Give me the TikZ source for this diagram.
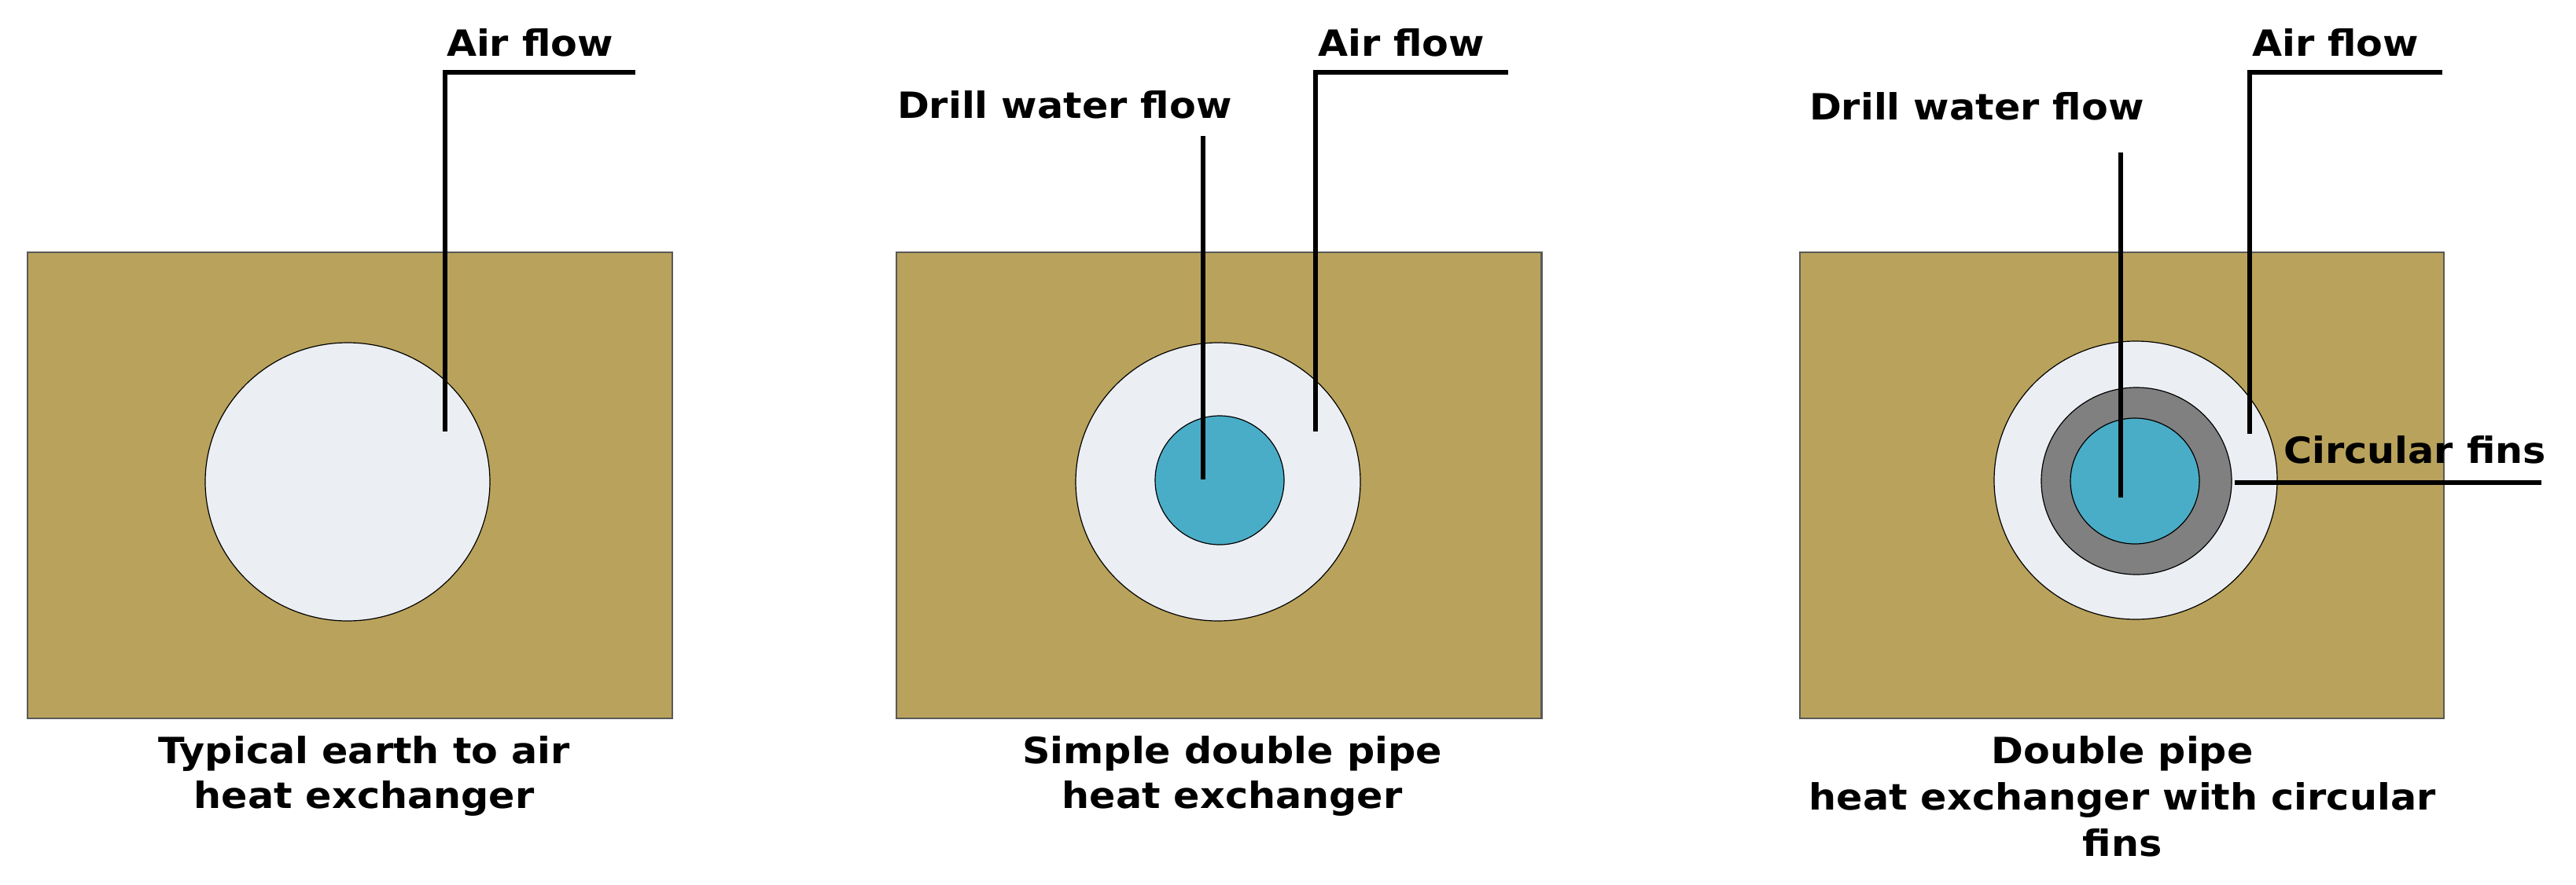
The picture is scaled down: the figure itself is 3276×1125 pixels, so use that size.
\documentclass[tikz,border=0pt]{standalone}
\usepackage{fontspec}
\setmainfont[FakeStretch=1.07]{DejaVu Sans}
\definecolor{earth}{HTML}{B9A25B}
\definecolor{airc}{HTML}{EBEEF3}
\definecolor{waterc}{HTML}{4AADC7}
\definecolor{finc}{HTML}{808080}
\tikzset{
  soil/.style={draw=black!65,line width=1.2pt,fill=earth},
  ring/.style={draw=black,line width=0.6pt},
  lead/.style={draw=black,line width=3pt},
  lbl/.style={font=\fontsize{23}{28.5}\selectfont\bfseries,anchor=base west,inner sep=0pt,outer sep=0pt,text=black},
  capt/.style={font=\fontsize{23}{28.5}\selectfont\bfseries,anchor=base,inner sep=0pt,outer sep=0pt,text=black},
}
\begin{document}
\begin{tikzpicture}[x=0.5pt,y=-0.5pt]
\useasboundingbox[fill=white] (0,0) rectangle (3276,1125);
% soil blocks
\node[soil,minimum width=410.2pt,minimum height=296.5pt,inner sep=0pt,anchor=north west] (soilA) at (33.5,320) {};
\node[soil,minimum width=410.2pt,minimum height=296.5pt,inner sep=0pt,anchor=north west] (soilB) at (1139,320) {};
\node[soil,minimum width=409.5pt,minimum height=296.5pt,inner sep=0pt,anchor=north west] (soilC) at (2288,320) {};
% pipes
\draw[ring,fill=airc] (442,613) ellipse [x radius=181,y radius=177];
\draw[ring,fill=airc] (1549,613) ellipse [x radius=181,y radius=177];
\draw[ring,fill=waterc] (1551,611) ellipse [x radius=82,y radius=82];
\draw[ring,fill=airc] (2716,611) ellipse [x radius=180,y radius=177];
\draw[ring,fill=finc] (2717,612) ellipse [x radius=121,y radius=119];
\draw[ring,fill=waterc] (2715,612) ellipse [x radius=82,y radius=80];
% leader coordinates
\coordinate (a1) at (808,92); \coordinate (a2) at (566,92); \coordinate (a3) at (566,549);
\coordinate (b1) at (1918,92); \coordinate (b2) at (1673,92); \coordinate (b3) at (1673,549);
\coordinate (c1) at (3106,92); \coordinate (c2) at (2861,92); \coordinate (c3) at (2861,552);
\coordinate (d1) at (1530,173); \coordinate (d2) at (1530,610);
\coordinate (e1) at (2697,194); \coordinate (e2) at (2697,633);
\coordinate (f1) at (2842,614); \coordinate (f2) at (3232,614);
\draw[lead,line join=miter] (a1) -- (a2) -- (a3);
\draw[lead,line join=miter] (b1) -- (b2) -- (b3);
\draw[lead,line join=miter] (c1) -- (c2) -- (c3);
\draw[lead] (d1) -- (d2);
\draw[lead] (e1) -- (e2);
\draw[lead] (f1) -- (f2);
% labels
\node[lbl] (airA) at (568,71) {Air flow};
\node[lbl] (airB) at (1676,71) {Air flow};
\node[lbl] (airC) at (2864,71) {Air flow};
\node[lbl] (drillB) at (1141,150) {Drill water flow};
\node[lbl] (drillC) at (2301,152) {Drill water flow};
\node[lbl] (fins) at (2904,589) {Circular fins};
% captions
\node[capt] (capA1) at (463,971) {Typical earth to air};
\node[capt] (capA2) at (463,1028) {heat exchanger};
\node[capt] (capB1) at (1567,971) {Simple double pipe};
\node[capt] (capB2) at (1567,1028) {heat exchanger};
\node[capt] (capC1) at (2699,971) {Double pipe};
\node[capt] (capC2) at (2699,1030) {heat exchanger with circular};
\node[capt] (capC3) at (2699,1089) {fins};
\end{tikzpicture}
\end{document}
